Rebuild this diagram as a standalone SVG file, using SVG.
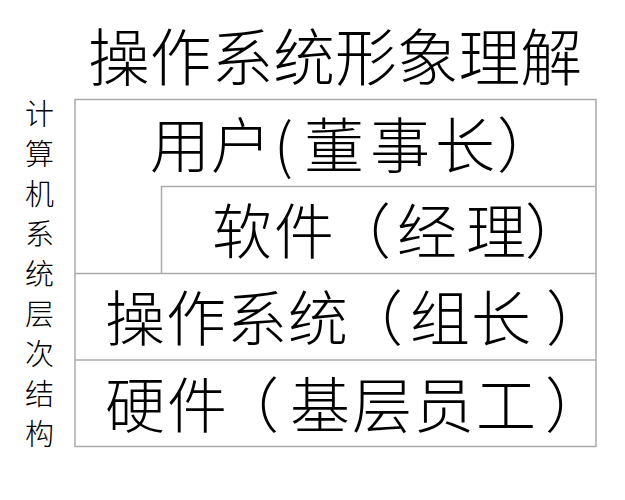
<svg xmlns="http://www.w3.org/2000/svg" width="625" height="500" viewBox="0 0 625 500">
<style>
.t{font-family:"Noto Sans CJK SC","Noto Sans CJK JP",sans-serif;fill:#000;font-weight:300}
.big{font-size:60px}
.side{font-size:29px}
.ln{stroke:#aaaaaa;stroke-width:1.5;fill:none}
</style>
<rect width="625" height="500" fill="#ffffff"/>
<g id="title"><text class="t" x="88" y="81" font-size="62" textLength="494" lengthAdjust="spacingAndGlyphs">操作系统形象理解</text></g>
<g id="side-label"><text class="t side" x="25" y="125">计</text>
<text class="t side" x="25" y="165">算</text>
<text class="t side" x="25" y="205">机</text>
<text class="t side" x="25" y="245">系</text>
<text class="t side" x="25" y="285">统</text>
<text class="t side" x="25" y="325">层</text>
<text class="t side" x="25" y="365">次</text>
<text class="t side" x="25" y="405">结</text>
<text class="t side" x="25" y="445">构</text></g>
<g id="connectors">
<rect class="ln" x="75" y="99.5" width="521" height="347"/>
<polyline class="ln" points="161.5,273.5 161.5,186.5 596,186.5"/>
<line class="ln" x1="75" y1="273.5" x2="596" y2="273.5"/>
<line class="ln" x1="75" y1="360" x2="596" y2="360"/>
</g>
<g id="user"><text class="t big" x="150 211 274 304 370 435 497" y="168">用户(董事长）</text></g>
<g id="software"><text class="t big" x="212 274 331 397 466 525" y="254">软件（经理）</text></g>
<g id="os"><text class="t big" x="105 166 227 288 343 410 471 546" y="341">操作系统（组长）</text></g>
<g id="hardware"><text class="t big" x="105 167 219 290 352 414 476 545" y="428">硬件（基层员工）</text></g>
</svg>
